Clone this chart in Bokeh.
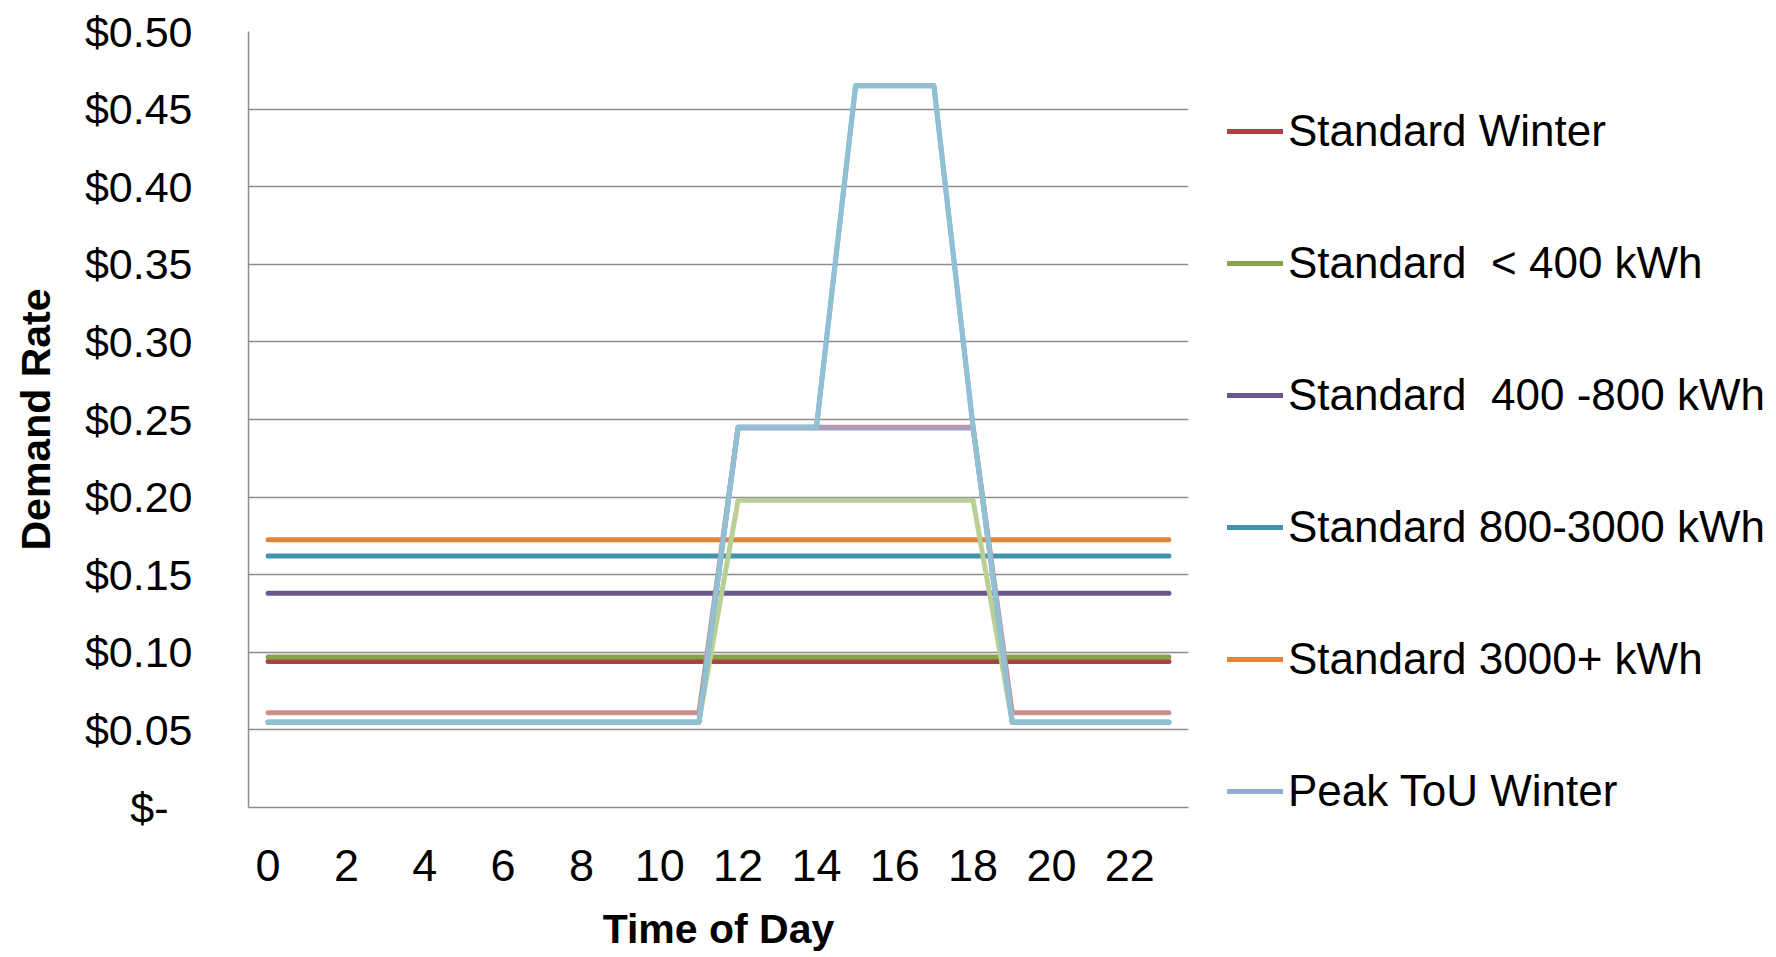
from bokeh.plotting import figure
from bokeh.models import FixedTicker, Legend, LegendItem, Range1d
from bokeh.embed import file_html
from bokeh.resources import INLINE

# ---- data ----
hours = [0, 1, 2, 3, 4, 5, 6, 7, 8, 9, 10, 11,
         12, 13, 14, 15, 16, 17, 18, 19, 20, 21, 22, 23]

standard_winter = [0.094, 0.094, 0.094, 0.094, 0.094, 0.094, 0.094, 0.094, 0.094, 0.094, 0.094, 0.094,
                   0.094, 0.094, 0.094, 0.094, 0.094, 0.094, 0.094, 0.094, 0.094, 0.094, 0.094, 0.094]
standard_lt400 = [0.097, 0.097, 0.097, 0.097, 0.097, 0.097, 0.097, 0.097, 0.097, 0.097, 0.097, 0.097,
                  0.097, 0.097, 0.097, 0.097, 0.097, 0.097, 0.097, 0.097, 0.097, 0.097, 0.097, 0.097]
standard_400_800 = [0.138, 0.138, 0.138, 0.138, 0.138, 0.138, 0.138, 0.138, 0.138, 0.138, 0.138, 0.138,
                    0.138, 0.138, 0.138, 0.138, 0.138, 0.138, 0.138, 0.138, 0.138, 0.138, 0.138, 0.138]
standard_800_3000 = [0.162, 0.162, 0.162, 0.162, 0.162, 0.162, 0.162, 0.162, 0.162, 0.162, 0.162, 0.162,
                     0.162, 0.162, 0.162, 0.162, 0.162, 0.162, 0.162, 0.162, 0.162, 0.162, 0.162, 0.162]
standard_3000p = [0.1725, 0.1725, 0.1725, 0.1725, 0.1725, 0.1725, 0.1725, 0.1725, 0.1725, 0.1725, 0.1725, 0.1725,
                  0.1725, 0.1725, 0.1725, 0.1725, 0.1725, 0.1725, 0.1725, 0.1725, 0.1725, 0.1725, 0.1725, 0.1725]
peak_tou_winter = [0.055, 0.055, 0.055, 0.055, 0.055, 0.055, 0.055, 0.055, 0.055, 0.055, 0.055, 0.055,
                   0.245, 0.245, 0.245, 0.465, 0.465, 0.465, 0.245, 0.055, 0.055, 0.055, 0.055, 0.055]
tou_pink = [0.061, 0.061, 0.061, 0.061, 0.061, 0.061, 0.061, 0.061, 0.061, 0.061, 0.061, 0.061,
            0.245, 0.245, 0.245, 0.245, 0.245, 0.245, 0.245, 0.061, 0.061, 0.061, 0.061, 0.061]
tou_light_green = [0.055, 0.055, 0.055, 0.055, 0.055, 0.055, 0.055, 0.055, 0.055, 0.055, 0.055, 0.055,
                   0.198, 0.198, 0.198, 0.198, 0.198, 0.198, 0.198, 0.055, 0.055, 0.055, 0.055, 0.055]
tou_light_purple = [0.055, 0.055, 0.055, 0.055, 0.055, 0.055, 0.055, 0.055, 0.055, 0.055, 0.055, 0.055,
                    0.2445, 0.2445, 0.2445, 0.2445, 0.2445, 0.2445, 0.2445, 0.055, 0.055, 0.055, 0.055, 0.055]
tou_aqua = [0.055, 0.055, 0.055, 0.055, 0.055, 0.055, 0.055, 0.055, 0.055, 0.055, 0.055, 0.055,
            0.245, 0.245, 0.245, 0.465, 0.465, 0.465, 0.245, 0.055, 0.055, 0.055, 0.055, 0.055]

x_ticks = [0, 2, 4, 6, 8, 10, 12, 14, 16, 18, 20, 22]
y_ticks = [0.0, 0.05, 0.10, 0.15, 0.20, 0.25, 0.30, 0.35, 0.40, 0.45, 0.50]
y_tick_labels = ["$-\u00a0\u00a0", "$0.05", "$0.10", "$0.15", "$0.20", "$0.25",
                 "$0.30", "$0.35", "$0.40", "$0.45", "$0.50"]

legend_labels = ["Standard Winter", "Standard  < 400 kWh", "Standard  400 -800 kWh",
                 "Standard 800-3000 kWh", "Standard 3000+ kWh", "Peak ToU Winter"]

FONT = "Liberation Sans"
GRID = "#8c8c8c"

p = figure(frame_width=940, frame_height=776, output_backend="svg", toolbar_location=None,
           x_range=Range1d(-0.5, 23.5), y_range=Range1d(0, 0.5),
           min_border_left=248, min_border_right=0, min_border_top=31, min_border_bottom=150)
p.outline_line_color = None
p.background_fill_color = "white"
p.border_fill_color = "white"

# axes
p.xaxis.ticker = FixedTicker(ticks=x_ticks)
p.yaxis.ticker = FixedTicker(ticks=y_ticks)
p.yaxis.major_label_overrides = {t: l for t, l in zip(y_ticks, y_tick_labels)}
for ax in (p.xaxis[0], p.yaxis[0]):
    ax.axis_line_color = GRID
    ax.axis_line_width = 1.5
    ax.major_tick_line_color = None
    ax.minor_tick_line_color = None
    ax.major_tick_out = 0
    ax.major_tick_in = 0
    ax.major_label_text_font = FONT
    ax.major_label_text_color = "black"
    ax.axis_label_text_font = FONT
    ax.axis_label_text_font_style = "bold"
    ax.axis_label_text_color = "black"
    ax.axis_label_text_font_size = "41px"

p.xaxis.major_label_text_font_size = "45px"
p.yaxis.major_label_text_font_size = "43px"
p.xaxis.major_label_standoff = 42
p.yaxis.major_label_standoff = 56
p.xaxis.axis_label = "Time of Day"
p.yaxis.axis_label = "Demand Rate"
p.xaxis.axis_label_standoff = 22
p.yaxis.axis_label_standoff = 23

p.xgrid.grid_line_color = None
p.ygrid.ticker = FixedTicker(ticks=y_ticks)
p.ygrid.grid_line_color = GRID
p.ygrid.grid_line_width = 1.5

LW = 5
series = [
    (standard_winter, "#a9433f"),
    (standard_lt400, "#86a44a"),
    (standard_400_800, "#6b568d"),
    (standard_800_3000, "#3f94ac"),
    (standard_3000p, "#e0853a"),
    (peak_tou_winter, "#94abd6"),
    (tou_pink, "#cd8e8e"),
    (tou_light_green, "#b8cf96"),
    (tou_light_purple, "#a89cc0"),
    (tou_aqua, "#8fc0d4"),
]
renderers = []
for ys, c in series:
    r = p.line(hours, ys, line_color=c, line_width=LW, line_cap="round", line_join="round")
    renderers.append(r)

items = [LegendItem(label=lab, renderers=[renderers[i]]) for i, lab in enumerate(legend_labels)]
legend = Legend(items=items, location=(39, -44))
legend.label_text_font = FONT
legend.label_text_font_size = "44px"
legend.label_text_color = "black"
legend.glyph_width = 56
legend.glyph_height = 120
legend.label_height = 120
legend.label_standoff = 5
legend.spacing = 12
legend.padding = 0
legend.margin = 0
legend.border_line_color = None
legend.background_fill_alpha = 0
p.add_layout(legend, "right")

open("out.html", "w").write(file_html(p, INLINE))
